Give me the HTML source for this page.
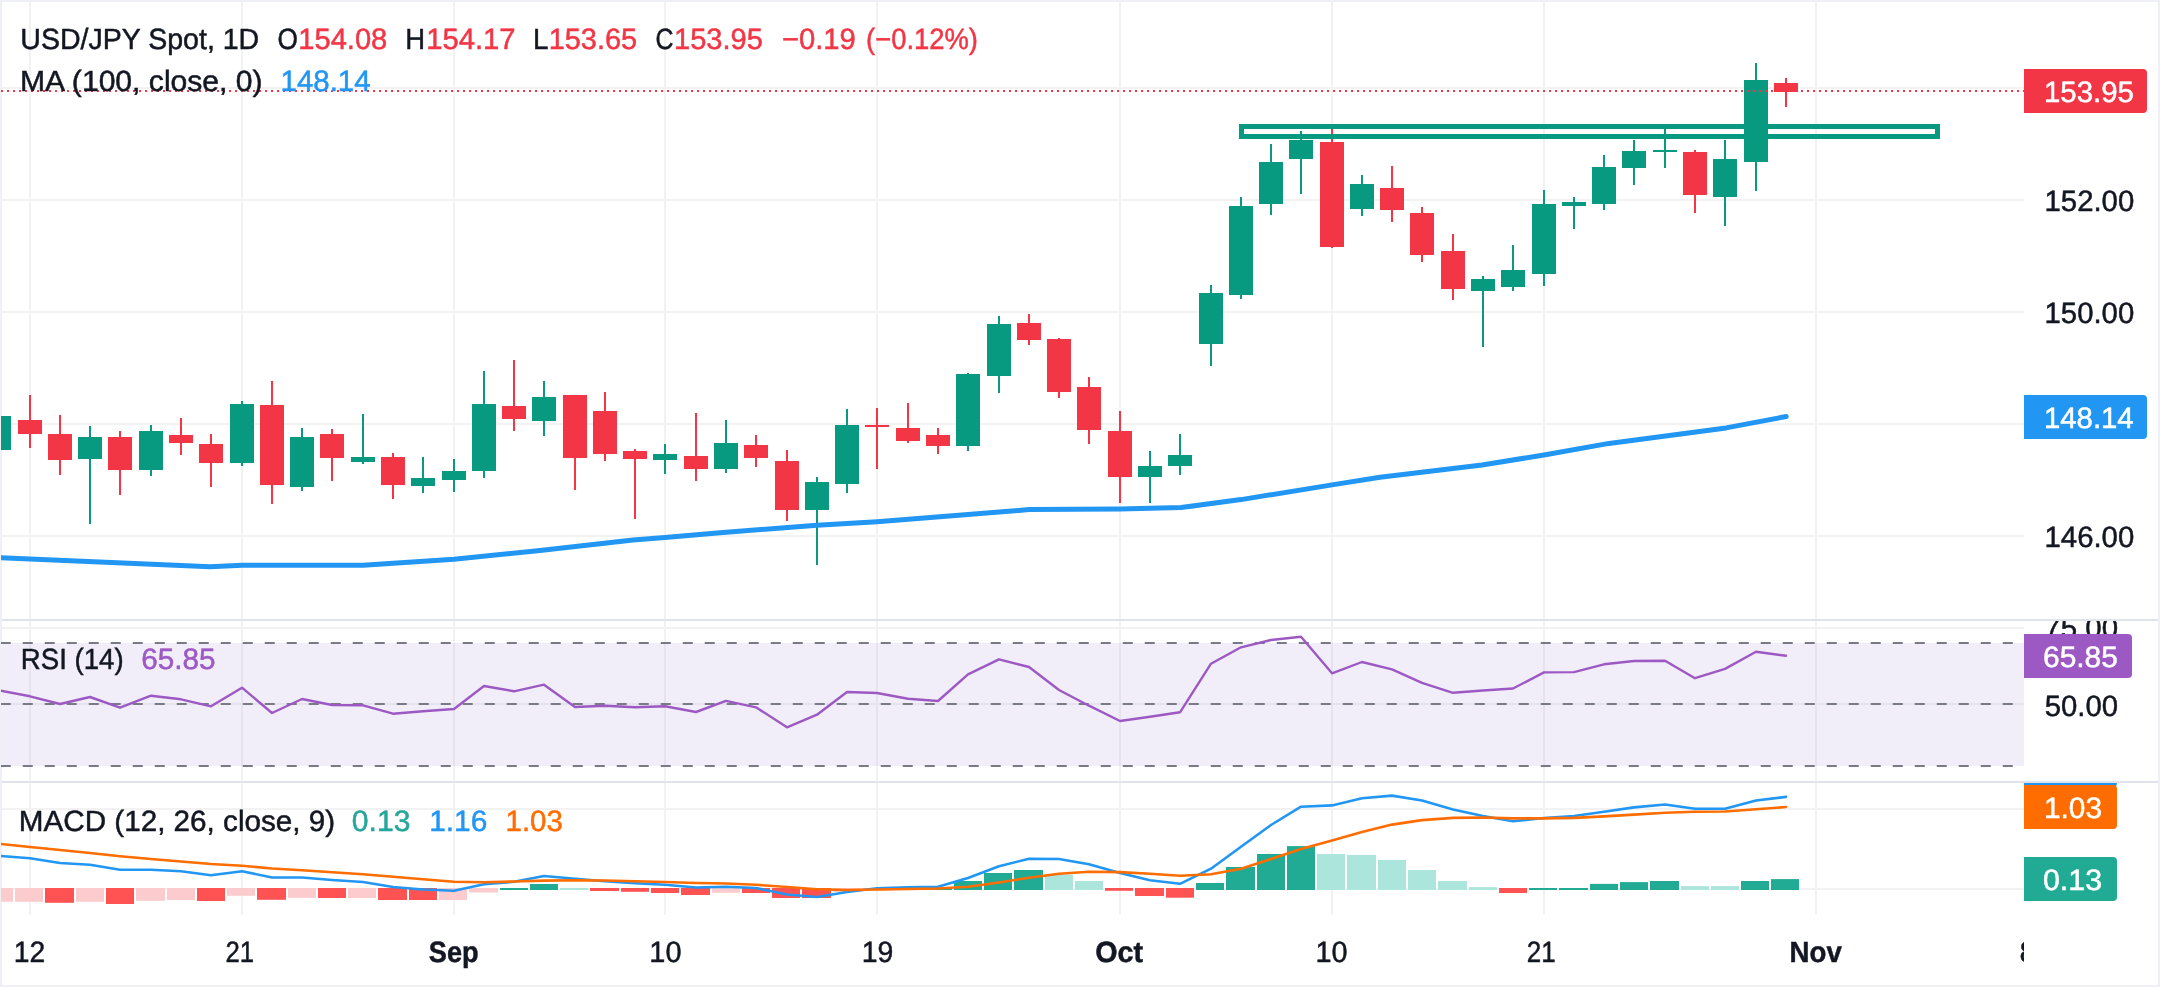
<!DOCTYPE html><html><head><meta charset="utf-8"><title>USD/JPY</title><style>html,body{margin:0;padding:0;background:#fff}body{width:2160px;height:987px;position:relative;overflow:hidden}</style></head><body><svg width="2160" height="987" viewBox="0 0 2160 987" style="position:absolute;left:0;top:0;will-change:transform;text-rendering:geometricPrecision;font-family:'Liberation Sans',sans-serif;font-size:28px">
<rect x="0" y="0" width="2160" height="987" fill="#fff"/>
<rect x="0" y="0" width="2" height="987" fill="#eef0f5"/>
<defs><clipPath id="pm"><rect x="1" y="2" width="2023" height="617"/></clipPath><clipPath id="pr"><rect x="1" y="621" width="2023" height="160"/></clipPath><clipPath id="pd"><rect x="1" y="783" width="2023" height="132"/></clipPath><clipPath id="ta"><rect x="2" y="915" width="2022" height="70"/></clipPath><clipPath id="ra"><rect x="2024" y="621" width="134" height="160"/></clipPath></defs>
<rect x="29" y="2" width="2" height="913" fill="#f2f2f3"/>
<rect x="241" y="2" width="2" height="913" fill="#f2f2f3"/>
<rect x="453" y="2" width="2" height="913" fill="#f2f2f3"/>
<rect x="664" y="2" width="2" height="913" fill="#f2f2f3"/>
<rect x="876" y="2" width="2" height="913" fill="#f2f2f3"/>
<rect x="1119" y="2" width="2" height="913" fill="#f2f2f3"/>
<rect x="1331" y="2" width="2" height="913" fill="#f2f2f3"/>
<rect x="1543" y="2" width="2" height="913" fill="#f2f2f3"/>
<rect x="1815" y="2" width="2" height="913" fill="#f2f2f3"/>
<rect x="2" y="87" width="2022" height="2" fill="#f2f2f3"/>
<rect x="2" y="199" width="2022" height="2" fill="#f2f2f3"/>
<rect x="2" y="311" width="2022" height="2" fill="#f2f2f3"/>
<rect x="2" y="423" width="2022" height="2" fill="#f2f2f3"/>
<rect x="2" y="535" width="2022" height="2" fill="#f2f2f3"/>
<rect x="2" y="627" width="2022" height="2" fill="#f2f2f3"/>
<rect x="2" y="703" width="2022" height="2" fill="#f2f2f3"/>
<rect x="2" y="808" width="2022" height="2" fill="#f2f2f3"/>
<rect x="2" y="888" width="2022" height="2" fill="#f2f2f3"/>
<g clip-path="url(#pm)">
<rect x="-2" y="416" width="2" height="34" fill="#089981"/>
<rect x="-13" y="416" width="24" height="34" fill="#089981"/>
<rect x="29" y="395" width="2" height="53" fill="#f23645"/>
<rect x="18" y="420" width="24" height="14" fill="#f23645"/>
<rect x="59" y="415" width="2" height="60" fill="#f23645"/>
<rect x="48" y="434" width="24" height="26" fill="#f23645"/>
<rect x="89" y="426" width="2" height="98" fill="#089981"/>
<rect x="78" y="437" width="24" height="22" fill="#089981"/>
<rect x="119" y="431" width="2" height="64" fill="#f23645"/>
<rect x="108" y="437" width="24" height="33" fill="#f23645"/>
<rect x="150" y="425" width="2" height="51" fill="#089981"/>
<rect x="139" y="431" width="24" height="39" fill="#089981"/>
<rect x="180" y="418" width="2" height="37" fill="#f23645"/>
<rect x="169" y="435" width="24" height="8" fill="#f23645"/>
<rect x="210" y="434" width="2" height="53" fill="#f23645"/>
<rect x="199" y="444" width="24" height="19" fill="#f23645"/>
<rect x="241" y="401" width="2" height="65" fill="#089981"/>
<rect x="230" y="404" width="24" height="59" fill="#089981"/>
<rect x="271" y="381" width="2" height="123" fill="#f23645"/>
<rect x="260" y="405" width="24" height="80" fill="#f23645"/>
<rect x="301" y="428" width="2" height="63" fill="#089981"/>
<rect x="290" y="437" width="24" height="50" fill="#089981"/>
<rect x="331" y="429" width="2" height="52" fill="#f23645"/>
<rect x="320" y="434" width="24" height="24" fill="#f23645"/>
<rect x="362" y="414" width="2" height="50" fill="#089981"/>
<rect x="351" y="457" width="24" height="5" fill="#089981"/>
<rect x="392" y="453" width="2" height="46" fill="#f23645"/>
<rect x="381" y="457" width="24" height="28" fill="#f23645"/>
<rect x="422" y="457" width="2" height="36" fill="#089981"/>
<rect x="411" y="478" width="24" height="8" fill="#089981"/>
<rect x="453" y="459" width="2" height="33" fill="#089981"/>
<rect x="442" y="471" width="24" height="9" fill="#089981"/>
<rect x="483" y="371" width="2" height="107" fill="#089981"/>
<rect x="472" y="404" width="24" height="67" fill="#089981"/>
<rect x="513" y="360" width="2" height="71" fill="#f23645"/>
<rect x="502" y="406" width="24" height="13" fill="#f23645"/>
<rect x="543" y="381" width="2" height="55" fill="#089981"/>
<rect x="532" y="397" width="24" height="24" fill="#089981"/>
<rect x="574" y="395" width="2" height="95" fill="#f23645"/>
<rect x="563" y="395" width="24" height="63" fill="#f23645"/>
<rect x="604" y="392" width="2" height="69" fill="#f23645"/>
<rect x="593" y="411" width="24" height="43" fill="#f23645"/>
<rect x="634" y="449" width="2" height="70" fill="#f23645"/>
<rect x="623" y="451" width="24" height="8" fill="#f23645"/>
<rect x="664" y="444" width="2" height="30" fill="#089981"/>
<rect x="653" y="454" width="24" height="6" fill="#089981"/>
<rect x="695" y="413" width="2" height="68" fill="#f23645"/>
<rect x="684" y="456" width="24" height="13" fill="#f23645"/>
<rect x="725" y="420" width="2" height="53" fill="#089981"/>
<rect x="714" y="443" width="24" height="26" fill="#089981"/>
<rect x="755" y="435" width="2" height="32" fill="#f23645"/>
<rect x="744" y="445" width="24" height="13" fill="#f23645"/>
<rect x="786" y="450" width="2" height="71" fill="#f23645"/>
<rect x="775" y="461" width="24" height="49" fill="#f23645"/>
<rect x="816" y="477" width="2" height="88" fill="#089981"/>
<rect x="805" y="482" width="24" height="28" fill="#089981"/>
<rect x="846" y="409" width="2" height="84" fill="#089981"/>
<rect x="835" y="425" width="24" height="59" fill="#089981"/>
<rect x="876" y="408" width="2" height="61" fill="#f23645"/>
<rect x="865" y="425" width="24" height="2" fill="#f23645"/>
<rect x="907" y="403" width="2" height="40" fill="#f23645"/>
<rect x="896" y="428" width="24" height="13" fill="#f23645"/>
<rect x="937" y="428" width="2" height="26" fill="#f23645"/>
<rect x="926" y="435" width="24" height="11" fill="#f23645"/>
<rect x="967" y="373" width="2" height="78" fill="#089981"/>
<rect x="956" y="374" width="24" height="72" fill="#089981"/>
<rect x="998" y="316" width="2" height="77" fill="#089981"/>
<rect x="987" y="324" width="24" height="52" fill="#089981"/>
<rect x="1028" y="314" width="2" height="31" fill="#f23645"/>
<rect x="1017" y="323" width="24" height="17" fill="#f23645"/>
<rect x="1058" y="338" width="2" height="60" fill="#f23645"/>
<rect x="1047" y="339" width="24" height="53" fill="#f23645"/>
<rect x="1088" y="377" width="2" height="67" fill="#f23645"/>
<rect x="1077" y="387" width="24" height="43" fill="#f23645"/>
<rect x="1119" y="411" width="2" height="92" fill="#f23645"/>
<rect x="1108" y="431" width="24" height="46" fill="#f23645"/>
<rect x="1149" y="451" width="2" height="52" fill="#089981"/>
<rect x="1138" y="466" width="24" height="11" fill="#089981"/>
<rect x="1179" y="434" width="2" height="41" fill="#089981"/>
<rect x="1168" y="455" width="24" height="11" fill="#089981"/>
<rect x="1210" y="285" width="2" height="81" fill="#089981"/>
<rect x="1199" y="293" width="24" height="51" fill="#089981"/>
<rect x="1240" y="197" width="2" height="102" fill="#089981"/>
<rect x="1229" y="206" width="24" height="89" fill="#089981"/>
<rect x="1270" y="144" width="2" height="71" fill="#089981"/>
<rect x="1259" y="162" width="24" height="42" fill="#089981"/>
<rect x="1300" y="131" width="2" height="63" fill="#089981"/>
<rect x="1289" y="140" width="24" height="19" fill="#089981"/>
<rect x="1331" y="128" width="2" height="120" fill="#f23645"/>
<rect x="1320" y="142" width="24" height="105" fill="#f23645"/>
<rect x="1361" y="175" width="2" height="41" fill="#089981"/>
<rect x="1350" y="184" width="24" height="25" fill="#089981"/>
<rect x="1391" y="166" width="2" height="56" fill="#f23645"/>
<rect x="1380" y="188" width="24" height="22" fill="#f23645"/>
<rect x="1421" y="207" width="2" height="55" fill="#f23645"/>
<rect x="1410" y="213" width="24" height="42" fill="#f23645"/>
<rect x="1452" y="234" width="2" height="66" fill="#f23645"/>
<rect x="1441" y="251" width="24" height="38" fill="#f23645"/>
<rect x="1482" y="276" width="2" height="71" fill="#089981"/>
<rect x="1471" y="279" width="24" height="12" fill="#089981"/>
<rect x="1512" y="245" width="2" height="46" fill="#089981"/>
<rect x="1501" y="270" width="24" height="17" fill="#089981"/>
<rect x="1543" y="190" width="2" height="96" fill="#089981"/>
<rect x="1532" y="204" width="24" height="70" fill="#089981"/>
<rect x="1573" y="197" width="2" height="32" fill="#089981"/>
<rect x="1562" y="202" width="24" height="4" fill="#089981"/>
<rect x="1603" y="155" width="2" height="55" fill="#089981"/>
<rect x="1592" y="167" width="24" height="37" fill="#089981"/>
<rect x="1633" y="140" width="2" height="45" fill="#089981"/>
<rect x="1622" y="151" width="24" height="17" fill="#089981"/>
<rect x="1664" y="129" width="2" height="39" fill="#089981"/>
<rect x="1653" y="150" width="24" height="2" fill="#089981"/>
<rect x="1694" y="150" width="2" height="63" fill="#f23645"/>
<rect x="1683" y="152" width="24" height="43" fill="#f23645"/>
<rect x="1724" y="140" width="2" height="86" fill="#089981"/>
<rect x="1713" y="159" width="24" height="38" fill="#089981"/>
<rect x="1755" y="63" width="2" height="128" fill="#089981"/>
<rect x="1744" y="80" width="24" height="82" fill="#089981"/>
<rect x="1785" y="78" width="2" height="29" fill="#f23645"/>
<rect x="1774" y="83" width="24" height="9" fill="#f23645"/>
<rect x="1241.5" y="126.5" width="696" height="10" fill="none" stroke="#089981" stroke-width="5"/>
<polyline points="-6.0,557.4 0.0,557.6 210.0,566.8 242.0,565.3 363.0,565.3 454.0,559.2 540.0,550.6 633.0,540.0 665.0,537.4 720.0,532.7 817.0,525.3 877.0,521.8 968.0,514.5 1029.0,509.6 1120.0,509.0 1181.0,507.6 1241.0,499.6 1332.0,484.9 1380.0,477.3 1482.0,465.0 1544.0,455.0 1609.0,443.4 1726.0,427.9 1786.2,416.5" fill="none" stroke="#2196f3" stroke-width="5" stroke-linejoin="round" stroke-linecap="round"/>
<line x1="1" y1="91" x2="2024" y2="91" stroke="#f23645" stroke-width="2" stroke-dasharray="2 4"/>
</g>
<g clip-path="url(#pr)">
<rect x="2" y="643" width="2022" height="123" fill="#7e57c2" fill-opacity="0.1"/>
<line x1="0.75" y1="643" x2="2024" y2="643" stroke="#787b86" stroke-width="2" stroke-dasharray="10 12"/>
<line x1="0.75" y1="704" x2="2024" y2="704" stroke="#787b86" stroke-width="2" stroke-dasharray="10 12"/>
<line x1="0.75" y1="766" x2="2024" y2="766" stroke="#787b86" stroke-width="2" stroke-dasharray="10 12"/>
<polyline points="-1.0,690.3 30.0,696.3 60.0,704.0 90.0,697.0 120.0,707.7 151.0,695.7 181.0,699.3 211.0,706.3 242.0,687.7 272.0,713.0 302.0,699.0 332.0,705.0 363.0,705.3 393.0,713.7 423.0,711.3 454.0,709.0 484.0,686.0 514.0,691.3 544.0,684.7 575.0,707.0 605.0,705.7 635.0,707.3 665.0,706.3 696.0,712.0 726.0,700.9 756.0,707.3 787.0,727.3 817.0,714.7 847.0,692.0 877.0,693.0 908.0,698.7 938.0,701.0 968.0,674.3 999.0,659.3 1029.0,667.0 1059.0,690.0 1089.0,705.7 1120.0,721.0 1150.0,716.7 1180.0,712.3 1211.0,663.7 1241.0,647.3 1271.0,640.0 1301.0,636.7 1332.0,673.3 1362.0,662.0 1392.0,669.3 1422.0,682.8 1453.0,692.8 1483.0,690.5 1513.0,688.5 1544.0,672.4 1574.0,672.1 1604.0,664.3 1634.0,661.0 1665.0,660.8 1695.0,678.2 1725.0,668.9 1756.0,651.7 1786.0,655.8" fill="none" stroke="#9c59c4" stroke-width="2.4" stroke-linejoin="round" stroke-linecap="round"/>
</g>
<g clip-path="url(#pd)">
<rect x="-15" y="888" width="28" height="13.8" fill="#fccbcd"/>
<rect x="15" y="888" width="28" height="13.8" fill="#fccbcd"/>
<rect x="45" y="888" width="29" height="14.8" fill="#ff5252"/>
<rect x="76" y="888" width="28" height="13.8" fill="#fccbcd"/>
<rect x="106" y="888" width="28" height="16.0" fill="#ff5252"/>
<rect x="136" y="888" width="29" height="12.8" fill="#fccbcd"/>
<rect x="167" y="888" width="28" height="12.0" fill="#fccbcd"/>
<rect x="197" y="888" width="28" height="13.0" fill="#ff5252"/>
<rect x="227" y="888" width="28" height="7.8" fill="#fccbcd"/>
<rect x="257" y="888" width="29" height="11.8" fill="#ff5252"/>
<rect x="288" y="888" width="28" height="9.8" fill="#fccbcd"/>
<rect x="318" y="888" width="28" height="10.0" fill="#ff5252"/>
<rect x="348" y="888" width="28" height="10.0" fill="#fccbcd"/>
<rect x="378" y="888" width="29" height="12.0" fill="#ff5252"/>
<rect x="409" y="888" width="28" height="12.0" fill="#ff5252"/>
<rect x="439" y="888" width="28" height="12.0" fill="#fccbcd"/>
<rect x="469" y="888" width="29" height="4.5" fill="#fccbcd"/>
<rect x="500" y="888.0" width="28" height="2.0" fill="#22ab94"/>
<rect x="530" y="884.0" width="28" height="6.0" fill="#22ab94"/>
<rect x="560" y="888.0" width="28" height="2.0" fill="#ace5dc"/>
<rect x="590" y="888" width="29" height="3.0" fill="#ff5252"/>
<rect x="621" y="888" width="28" height="3.8" fill="#ff5252"/>
<rect x="651" y="888" width="28" height="5.0" fill="#ff5252"/>
<rect x="681" y="888" width="29" height="7.0" fill="#ff5252"/>
<rect x="712" y="888" width="28" height="4.8" fill="#fccbcd"/>
<rect x="742" y="888" width="28" height="5.0" fill="#ff5252"/>
<rect x="772" y="888" width="28" height="10.0" fill="#ff5252"/>
<rect x="802" y="888" width="29" height="10.0" fill="#ff5252"/>
<rect x="833" y="888" width="28" height="4.0" fill="#fccbcd"/>
<rect x="863" y="888" width="28" height="2.5" fill="#fccbcd"/>
<rect x="893" y="888.0" width="29" height="2.0" fill="#22ab94"/>
<rect x="924" y="888.0" width="28" height="2.0" fill="#22ab94"/>
<rect x="954" y="881.0" width="28" height="9.0" fill="#22ab94"/>
<rect x="984" y="873.0" width="28" height="17.0" fill="#22ab94"/>
<rect x="1014" y="870.0" width="29" height="20.0" fill="#22ab94"/>
<rect x="1045" y="874.6" width="28" height="15.4" fill="#ace5dc"/>
<rect x="1075" y="881.0" width="28" height="9.0" fill="#ace5dc"/>
<rect x="1105" y="888" width="28" height="2.8" fill="#ff5252"/>
<rect x="1135" y="888" width="29" height="8.0" fill="#ff5252"/>
<rect x="1166" y="888" width="28" height="9.7" fill="#ff5252"/>
<rect x="1196" y="883.0" width="28" height="7.0" fill="#22ab94"/>
<rect x="1226" y="867.0" width="29" height="23.0" fill="#22ab94"/>
<rect x="1257" y="854.0" width="28" height="36.0" fill="#22ab94"/>
<rect x="1287" y="846.1" width="28" height="43.9" fill="#22ab94"/>
<rect x="1317" y="854.0" width="28" height="36.0" fill="#ace5dc"/>
<rect x="1347" y="854.9" width="29" height="35.1" fill="#ace5dc"/>
<rect x="1378" y="860.0" width="28" height="30.0" fill="#ace5dc"/>
<rect x="1408" y="870.0" width="28" height="20.0" fill="#ace5dc"/>
<rect x="1438" y="881.0" width="29" height="9.0" fill="#ace5dc"/>
<rect x="1469" y="887.1" width="28" height="2.9" fill="#ace5dc"/>
<rect x="1499" y="888" width="28" height="5.0" fill="#ff5252"/>
<rect x="1529" y="888.0" width="28" height="2.0" fill="#22ab94"/>
<rect x="1559" y="888.0" width="29" height="2.0" fill="#22ab94"/>
<rect x="1590" y="883.9" width="28" height="6.1" fill="#22ab94"/>
<rect x="1620" y="882.1" width="28" height="7.9" fill="#22ab94"/>
<rect x="1650" y="881.0" width="29" height="9.0" fill="#22ab94"/>
<rect x="1681" y="886.1" width="28" height="3.9" fill="#ace5dc"/>
<rect x="1711" y="886.1" width="28" height="3.9" fill="#ace5dc"/>
<rect x="1741" y="881.0" width="28" height="9.0" fill="#22ab94"/>
<rect x="1771" y="879.1" width="28" height="10.9" fill="#22ab94"/>
<polyline points="-1.0,855.8 30.0,858.2 60.0,863.0 90.0,864.8 120.0,869.8 151.0,869.8 181.0,871.2 211.0,875.2 242.0,871.2 272.0,877.5 302.0,877.5 332.0,880.0 363.0,882.0 393.0,887.0 423.0,889.5 454.0,890.8 484.0,884.2 514.0,881.8 544.0,876.0 575.0,878.8 605.0,881.2 635.0,883.2 665.0,884.8 696.0,887.5 726.0,886.8 756.0,888.0 787.0,894.5 817.0,897.0 847.0,892.0 877.0,888.2 908.0,887.2 938.0,886.8 968.0,878.0 999.0,866.2 1029.0,858.8 1059.0,859.0 1089.0,864.2 1120.0,873.0 1150.0,880.2 1180.0,883.8 1211.0,868.7 1241.0,846.8 1271.0,825.0 1301.0,806.7 1332.0,805.4 1362.0,798.2 1392.0,795.6 1422.0,800.5 1453.0,809.5 1483.0,816.0 1513.0,821.3 1544.0,818.0 1574.0,816.0 1604.0,811.7 1634.0,807.4 1665.0,804.5 1695.0,808.8 1725.0,808.8 1756.0,800.5 1786.0,796.9" fill="none" stroke="#2196f3" stroke-width="2.6" stroke-linejoin="round" stroke-linecap="round"/>
<polyline points="-1.0,843.8 30.0,847.0 60.0,850.0 90.0,853.0 120.0,856.2 151.0,859.0 181.0,861.5 211.0,864.0 242.0,865.8 272.0,868.5 302.0,870.2 332.0,872.2 363.0,874.2 393.0,876.8 423.0,879.2 454.0,881.8 484.0,882.2 514.0,881.5 544.0,880.6 575.0,880.2 605.0,880.5 635.0,881.2 665.0,882.0 696.0,883.0 726.0,883.5 756.0,884.8 787.0,887.0 817.0,889.2 847.0,890.0 877.0,889.5 908.0,889.0 938.0,888.5 968.0,886.8 999.0,882.5 1029.0,877.7 1059.0,873.7 1089.0,871.7 1120.0,872.1 1150.0,873.8 1180.0,875.7 1211.0,874.2 1241.0,868.7 1271.0,859.1 1301.0,848.9 1332.0,840.4 1362.0,831.9 1392.0,824.6 1422.0,820.1 1453.0,817.9 1483.0,817.5 1513.0,818.4 1544.0,818.4 1574.0,817.9 1604.0,816.4 1634.0,814.6 1665.0,812.8 1695.0,811.7 1725.0,811.5 1756.0,809.2 1786.0,807.0" fill="none" stroke="#ff6d00" stroke-width="2.6" stroke-linejoin="round" stroke-linecap="round"/>
</g>
<rect x="2" y="619" width="2156" height="2" fill="#e0e3eb"/>
<rect x="2" y="781" width="2156" height="2" fill="#e0e3eb"/>
<text x="20.30" y="49.0" textLength="238.92" lengthAdjust="spacingAndGlyphs" fill="#131722" stroke="#131722" stroke-width="0.5" font-size="29.25">USD/JPY Spot, 1D</text>
<text x="277.52" y="49.0" textLength="20.39" lengthAdjust="spacingAndGlyphs" fill="#131722" stroke="#131722" stroke-width="0.5" font-size="29.25">O</text>
<text x="298.29" y="49.0" textLength="88.98" lengthAdjust="spacingAndGlyphs" fill="#f23645" stroke="#f23645" stroke-width="0.5" font-size="29.5">154.08</text>
<text x="405.25" y="49.0" textLength="19.83" lengthAdjust="spacingAndGlyphs" fill="#131722" stroke="#131722" stroke-width="0.5" font-size="29.25">H</text>
<text x="426.13" y="49.0" textLength="89.51" lengthAdjust="spacingAndGlyphs" fill="#f23645" stroke="#f23645" stroke-width="0.5" font-size="29.5">154.17</text>
<text x="532.97" y="49.0" textLength="15.45" lengthAdjust="spacingAndGlyphs" fill="#131722" stroke="#131722" stroke-width="0.5" font-size="29.25">L</text>
<text x="548.65" y="49.0" textLength="88.59" lengthAdjust="spacingAndGlyphs" fill="#f23645" stroke="#f23645" stroke-width="0.5" font-size="29.5">153.65</text>
<text x="655.48" y="49.0" textLength="17.97" lengthAdjust="spacingAndGlyphs" fill="#131722" stroke="#131722" stroke-width="0.5" font-size="29.25">C</text>
<text x="674.04" y="49.0" textLength="88.85" lengthAdjust="spacingAndGlyphs" fill="#f23645" stroke="#f23645" stroke-width="0.5" font-size="29.5">153.95</text>
<text x="781.92" y="49.0" textLength="73.96" lengthAdjust="spacingAndGlyphs" fill="#f23645" stroke="#f23645" stroke-width="0.5" font-size="29.5">−0.19</text>
<text x="866.05" y="49.0" textLength="111.91" lengthAdjust="spacingAndGlyphs" fill="#f23645" stroke="#f23645" stroke-width="0.5" font-size="29.5">(−0.12%)</text>
<text x="20.03" y="90.9" textLength="242.59" lengthAdjust="spacingAndGlyphs" fill="#131722" stroke="#131722" stroke-width="0.5" font-size="29.25">MA (100, close, 0)</text>
<text x="280.51" y="90.9" textLength="90.11" lengthAdjust="spacingAndGlyphs" fill="#2196f3" stroke="#2196f3" stroke-width="0.5" font-size="29.5">148.14</text>
<text x="20.73" y="669.0" textLength="102.99" lengthAdjust="spacingAndGlyphs" fill="#131722" stroke="#131722" stroke-width="0.5" font-size="29.25">RSI (14)</text>
<text x="141.24" y="669.0" textLength="74.17" lengthAdjust="spacingAndGlyphs" fill="#9c59c4" stroke="#9c59c4" stroke-width="0.5" font-size="29.5">65.85</text>
<text x="18.82" y="830.6" textLength="316.28" lengthAdjust="spacingAndGlyphs" fill="#131722" stroke="#131722" stroke-width="0.5" font-size="29.25">MACD (12, 26, close, 9)</text>
<text x="351.82" y="830.6" textLength="58.66" lengthAdjust="spacingAndGlyphs" fill="#26a69a" stroke="#26a69a" stroke-width="0.5" font-size="29.5">0.13</text>
<text x="429.23" y="830.6" textLength="58.09" lengthAdjust="spacingAndGlyphs" fill="#2196f3" stroke="#2196f3" stroke-width="0.5" font-size="29.5">1.16</text>
<text x="505.51" y="830.6" textLength="57.45" lengthAdjust="spacingAndGlyphs" fill="#ff6d00" stroke="#ff6d00" stroke-width="0.5" font-size="29.5">1.03</text>
<text x="2044.52" y="211.4" textLength="89.69" lengthAdjust="spacingAndGlyphs" fill="#131722" stroke="#131722" stroke-width="0.5" font-size="29.5">152.00</text>
<text x="2044.52" y="323.4" textLength="89.69" lengthAdjust="spacingAndGlyphs" fill="#131722" stroke="#131722" stroke-width="0.5" font-size="29.5">150.00</text>
<text x="2044.52" y="547.4" textLength="89.69" lengthAdjust="spacingAndGlyphs" fill="#131722" stroke="#131722" stroke-width="0.5" font-size="29.5">146.00</text>
<g clip-path="url(#ra)">
<text x="2044.35" y="637.9" textLength="73.77" lengthAdjust="spacingAndGlyphs" fill="#131722" stroke="#131722" stroke-width="0.5" font-size="29.5">75.00</text>
</g>
<text x="2044.68" y="716.2" textLength="73.43" lengthAdjust="spacingAndGlyphs" fill="#131722" stroke="#131722" stroke-width="0.5" font-size="29.5">50.00</text>
<path d="M2024 69.0 H2143 a4 4 0 0 1 4 4 V109.0 a4 4 0 0 1 -4 4 H2024 Z" fill="#f23645"/>
<text x="2044.02" y="102.2" textLength="89.78" lengthAdjust="spacingAndGlyphs" fill="#fff" stroke="#fff" stroke-width="0.5" font-size="29.5">153.95</text>
<path d="M2024 395.0 H2143 a4 4 0 0 1 4 4 V435.0 a4 4 0 0 1 -4 4 H2024 Z" fill="#2196f3"/>
<text x="2044.02" y="428.2" textLength="89.59" lengthAdjust="spacingAndGlyphs" fill="#fff" stroke="#fff" stroke-width="0.5" font-size="29.5">148.14</text>
<path d="M2024 634.0 H2128 a4 4 0 0 1 4 4 V674.0 a4 4 0 0 1 -4 4 H2024 Z" fill="#9c59c4"/>
<text x="2043.03" y="667.2" textLength="74.79" lengthAdjust="spacingAndGlyphs" fill="#fff" stroke="#fff" stroke-width="0.5" font-size="29.5">65.85</text>
<path d="M2024 783 H2117 L2116 787 H2024 Z" fill="#2196f3"/>
<path d="M2024 785.0 H2113 a4 4 0 0 1 4 4 V825.0 a4 4 0 0 1 -4 4 H2024 Z" fill="#ff6d00"/>
<text x="2043.98" y="818.2" textLength="58.09" lengthAdjust="spacingAndGlyphs" fill="#fff" stroke="#fff" stroke-width="0.5" font-size="29.5">1.03</text>
<path d="M2024 857.0 H2113 a4 4 0 0 1 4 4 V897.0 a4 4 0 0 1 -4 4 H2024 Z" fill="#22ab94"/>
<text x="2042.97" y="890.2" textLength="59.13" lengthAdjust="spacingAndGlyphs" fill="#fff" stroke="#fff" stroke-width="0.5" font-size="29.5">0.13</text>
<g clip-path="url(#ta)">
<text x="13.70" y="962.2" textLength="31.47" lengthAdjust="spacingAndGlyphs" fill="#131722" stroke="#131722" stroke-width="0.5" font-size="29.5">12</text>
<text x="225.46" y="962.2" textLength="28.66" lengthAdjust="spacingAndGlyphs" fill="#131722" stroke="#131722" stroke-width="0.5" font-size="29.5">21</text>
<text x="428.86" y="962.2" textLength="49.75" lengthAdjust="spacingAndGlyphs" fill="#131722" stroke="#131722" stroke-width="0.5" font-size="29.25" font-weight="bold">Sep</text>
<text x="649.30" y="962.2" textLength="32.19" lengthAdjust="spacingAndGlyphs" fill="#131722" stroke="#131722" stroke-width="0.5" font-size="29.5">10</text>
<text x="861.69" y="962.2" textLength="31.60" lengthAdjust="spacingAndGlyphs" fill="#131722" stroke="#131722" stroke-width="0.5" font-size="29.5">19</text>
<text x="1095.33" y="962.2" textLength="47.77" lengthAdjust="spacingAndGlyphs" fill="#131722" stroke="#131722" stroke-width="0.5" font-size="29.25" font-weight="bold">Oct</text>
<text x="1315.56" y="962.2" textLength="32.08" lengthAdjust="spacingAndGlyphs" fill="#131722" stroke="#131722" stroke-width="0.5" font-size="29.5">10</text>
<text x="1526.75" y="962.2" textLength="28.88" lengthAdjust="spacingAndGlyphs" fill="#131722" stroke="#131722" stroke-width="0.5" font-size="29.5">21</text>
<text x="1789.60" y="962.2" textLength="52.17" lengthAdjust="spacingAndGlyphs" fill="#131722" stroke="#131722" stroke-width="0.5" font-size="29.25" font-weight="bold">Nov</text>
<text x="2019.42" y="962.2" textLength="17.16" lengthAdjust="spacingAndGlyphs" fill="#131722" stroke="#131722" stroke-width="0.5" font-size="29.5">8</text>
</g>
<path d="M0 0H2160V987H0Z M1 2V985H2158V2Z" fill="#eef0f5" fill-rule="evenodd"/>
</svg></body></html>
